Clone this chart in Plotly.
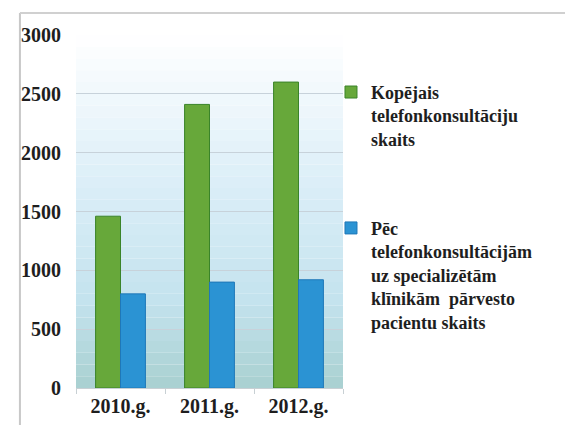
"""Telefonkonsultāciju skaits pa gadiem."""

import plotly.graph_objects as go

YEARS = ["2010.g.", "2011.g.", "2012.g."]
TOTAL_CONSULTS = [1460, 2410, 2600]
REFERRED = [800, 900, 920]

NAME_TOTAL = "Kopējais<br>telefonkonsultāciju<br>skaits"
NAME_REFERRED = ("Pēc<br>telefonkonsultācijām<br>uz specializētām<br>"
                 "klīnikām  pārvesto<br>pacientu skaits")

GREEN = "#67a83a"
BLUE = "#2b93d3"
SERIF = "'Liberation Serif', 'DejaVu Serif', serif"
FONT = dict(family=SERIF, size=20, color="#1e1e1e", weight="bold")
LEGEND_FONT = dict(family=SERIF, size=18, color="#1e1e1e", weight="bold")


def _mix(c1, c2, t):
    a = [int(c1[i:i + 2], 16) for i in (1, 3, 5)]
    b = [int(c2[i:i + 2], 16) for i in (1, 3, 5)]
    return "rgb({},{},{})".format(*[round(x + (y - x) * t) for x, y in zip(a, b)])


def _background_bands(n=30):
    # vertical gradient: white top -> light blue -> teal at the bottom
    stops = [(0.0, "#a8d0d0"), (0.25, "#c4e3ee"), (0.6, "#ddeff8"), (1.0, "#ffffff")]
    shapes = []
    for i in range(n):
        y0, y1 = i / n, (i + 1) / n
        mid = (y0 + y1) / 2
        for (s0, c0), (s1, c1) in zip(stops, stops[1:]):
            if s0 <= mid <= s1:
                color = _mix(c0, c1, (mid - s0) / (s1 - s0))
                break
        shapes.append(dict(type="rect", xref="paper", yref="paper", x0=0, x1=1,
                           y0=y0, y1=y1, fillcolor=color, line_width=0, layer="below"))
    return shapes


fig = go.Figure()
fig.add_trace(go.Bar(
    x=YEARS, y=TOTAL_CONSULTS, name=NAME_TOTAL, legend="legend",
    marker=dict(color=GREEN, line=dict(color="#3a8429", width=1)),
))
fig.add_trace(go.Bar(
    x=YEARS, y=REFERRED, name=NAME_REFERRED, legend="legend2",
    marker=dict(color=BLUE, line=dict(color="#1f78b8", width=1)),
))

shapes = _background_bands()
shapes += [
    dict(type="line", xref="paper", yref="paper", x0=-0.21, x1=-0.21, y0=-0.15, y1=1.062,
         line=dict(color="#c8c8c8", width=2)),
    dict(type="line", xref="paper", yref="paper", x0=-0.21, x1=1.85, y0=1.062, y1=1.062,
         line=dict(color="#d0d0d0", width=2)),
]

legend_style = dict(font=LEGEND_FONT, bgcolor="rgba(0,0,0,0)", xanchor="left", yanchor="top",
                    itemwidth=30, valign="top")
fig.update_layout(
    width=573,
    height=425,
    margin=dict(l=68, r=238, t=27, b=45, autoexpand=False),
    paper_bgcolor="white",
    plot_bgcolor="rgba(0,0,0,0)",
    barmode="group",
    bargap=0.44,
    bargroupgap=0,
    font=FONT,
    shapes=shapes,
    showlegend=True,
    legend=dict(x=0.955, y=0.89, **legend_style),
    legend2=dict(x=0.955, y=0.505, **legend_style),
)
fig.update_yaxes(
    range=[0, 3000], dtick=500, showgrid=True, gridcolor="#c7d2da", gridwidth=1,
    zeroline=False, showline=False, tickfont=FONT, ticks="", ticklabelstandoff=14,
)
fig.update_xaxes(
    showline=True, linecolor="#c8d0d4", linewidth=1, ticks="outside", tickson="boundaries",
    ticklen=5, tickcolor="#c8d0d4", tickfont=FONT,
)

fig.write_html("out.html")
